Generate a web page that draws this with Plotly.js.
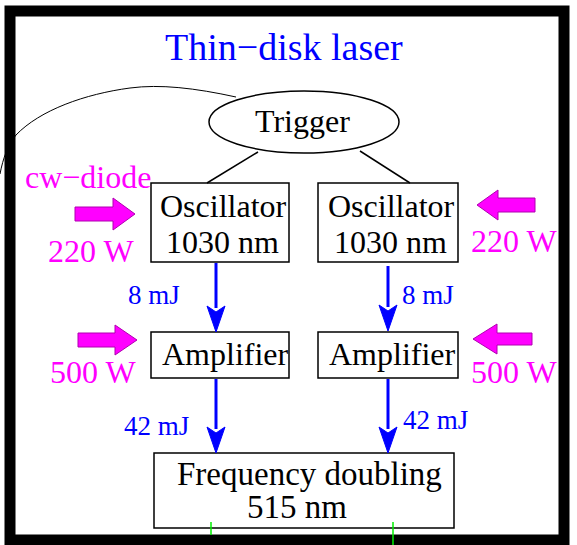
<!DOCTYPE html>
<html><head><meta charset="utf-8">
<script src="https://cdn.plot.ly/plotly-3.0.1.min.js"></script>
<style>html,body{margin:0;padding:0;background:#fff}</style>
</head><body><div id="chart" style="width:577px;height:545px"></div>
<script>
// ---- content ----
const titleText = "Thin\u2212disk laser";
const triggerLabel = "Trigger";
const oscLabels = ["Oscillator", "1030 nm"];
const ampLabel = "Amplifier";
const shgLabels = ["Frequency doubling", "515 nm"];
const diodeLabel = "cw\u2212diode";
const pumpPowers = ["220 W", "500 W"];        // oscillator, amplifier pump
const pulseEnergies = ["8 mJ", "42 mJ"];      // after oscillator, after amplifier

// ---- layout geometry (pixel coordinates of the diagram) ----
const G = {
  osc: [[151,183,289,262],[318,183,458,262]],
  amp: [[151,332,289,378],[318,332,458,378]],
  shg: [154,453,454,528],
  trig: [209,91,399,153],
  beamX: [216,388]
};
const BLACK = "#000", BLUE = "#0000ff", MAG = "#ff00ff", SERIF = "Liberation Serif, Times New Roman, serif";
const FS = 32, FM = 32;

const shapes = [];
function rect(b){shapes.push({type:"rect",x0:b[0],y0:b[1],x1:b[2],y1:b[3],line:{color:BLACK,width:1.5},fillcolor:"rgba(0,0,0,0)"});}
function line(x0,y0,x1,y1,c,w){shapes.push({type:"line",x0,y0,x1,y1,line:{color:c,width:w}});}
function blueArrow(x,y0,y1){
  const hl=26, hw=9;
  line(x,y0,x,y1-hl+2,BLUE,3);
  shapes.push({type:"path",path:`M ${x-hw},${y1-hl} L ${x},${y1} L ${x+hw},${y1-hl} L ${x},${y1-hl+6} Z`,fillcolor:BLUE,line:{color:BLUE,width:1}});
}
function fatArrow(tail,tip,base,cy,bh,hh){
  const p=`M ${tail},${cy-bh} L ${base},${cy-bh} L ${base},${cy-hh} L ${tip},${cy} L ${base},${cy+hh} L ${base},${cy+bh} L ${tail},${cy+bh} Z`;
  shapes.push({type:"path",path:p,fillcolor:MAG,line:{color:"#b000b0",width:1}});
}

// outside curve (trigger cable)
shapes.push({type:"path",path:"M 236,97 C 195,88 160,84 130,88 C 85,94 40,110 16,135 C 8,145 3,158 0,174",line:{color:BLACK,width:1}});
// frame
shapes.push({type:"rect",x0:10,y0:11,x1:564,y1:540,line:{color:BLACK,width:11},fillcolor:"rgba(0,0,0,0)"});
// trigger ellipse
shapes.push({type:"circle",x0:G.trig[0],y0:G.trig[1],x1:G.trig[2],y1:G.trig[3],line:{color:BLACK,width:1.5}});
line(258,152,207,183,BLACK,1.5);
line(360,151,410,183,BLACK,1.5);
G.osc.forEach(rect); G.amp.forEach(rect); rect(G.shg);
// beam arrows
blueArrow(G.beamX[0],263,332); blueArrow(G.beamX[1],266,331);
blueArrow(G.beamX[0],379,453); blueArrow(G.beamX[1],379,453);
// pump arrows
fatArrow(75,135,113,214,7,16);
fatArrow(78,137,115,340,7,15);
fatArrow(535,477,498,205,7,15);
fatArrow(532,473,497,339,6,15);
// green beams out
line(211,522,211,535,"#00ee00",1.5);
line(393,522,393,545,"#00ee00",1.5);

const ann = [];
function txt(t,x,y,c,s){ann.push({text:t,x,y,xref:"x",yref:"y",showarrow:false,xanchor:"center",yanchor:"middle",font:{family:SERIF,size:s,color:c}});}
txt(titleText,284,47,BLUE,38);
txt(triggerLabel,302,121,BLACK,FS);
txt(oscLabels[0],223,206,BLACK,FS); txt(oscLabels[1],222,242,BLACK,FS);
txt(oscLabels[0],391,206,BLACK,FS); txt(oscLabels[1],390,242,BLACK,FS);
txt(ampLabel,225,354,BLACK,FS); txt(ampLabel,392,354,BLACK,FS);
txt(shgLabels[0],309,474,BLACK,33); txt(shgLabels[1],297,507,BLACK,33);
txt(diodeLabel,88,177,MAG,FM);
txt(pumpPowers[0],91,251,MAG,FM); txt(pumpPowers[0],514,241,MAG,FM);
txt(pumpPowers[1],93,372,MAG,FM); txt(pumpPowers[1],514,372,MAG,FM);
txt(pulseEnergies[0],154,295,BLUE,27); txt(pulseEnergies[0],428,295,BLUE,27);
txt(pulseEnergies[1],156,426,BLUE,27); txt(pulseEnergies[1],435,420,BLUE,27);

Plotly.newPlot("chart",[],{
  width:577,height:545,margin:{l:0,r:0,t:0,b:0},
  paper_bgcolor:"#fff",plot_bgcolor:"#fff",showlegend:false,
  xaxis:{range:[0,577],visible:false,fixedrange:true},
  yaxis:{range:[545,0],visible:false,fixedrange:true},
  shapes,annotations:ann
},{staticPlot:true,displayModeBar:false});
</script></body></html>
